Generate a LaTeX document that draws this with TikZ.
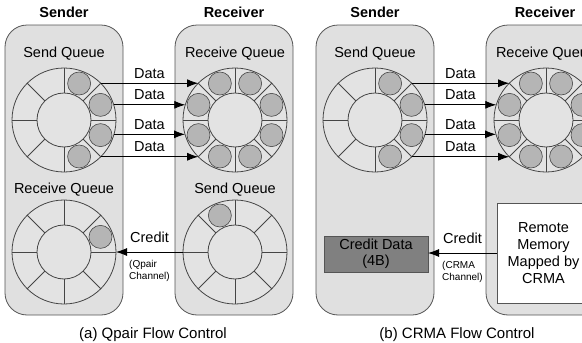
\documentclass[tikz,border=0pt]{standalone}
\usepackage{fontspec}
\setmainfont{Liberation Sans}
\usetikzlibrary{arrows.meta, calc, positioning}

\definecolor{boxgray}{HTML}{E0E0E0}
\definecolor{ringgray}{HTML}{E3E3E3}
\definecolor{slotgray}{HTML}{B5B5B5}
\definecolor{edge}{HTML}{555555}
\definecolor{ringline}{HTML}{454545}
\definecolor{darkcell}{HTML}{808080}

\begin{document}
\begin{tikzpicture}[x=1pt, y=1pt, font=\fontsize{14.5}{17}\selectfont]
\tikzset{every node/.style={inner sep=0mm, outer sep=0mm}}

\tikzstyle{host}=[draw=edge, fill=boxgray, rounded corners=22pt, minimum width=118pt, minimum height=290pt, line width=0.8pt]
\tikzstyle{title}=[font=\fontsize{14.5}{17}\selectfont\bfseries, text depth=0pt]
\tikzstyle{qname}=[text depth=0pt]
\tikzstyle{ring}=[circle, draw=ringline, fill=ringgray, minimum size=104pt, line width=0.8pt]
\tikzstyle{hub}=[circle, draw=ringline, fill=ringgray, minimum size=54pt, line width=0.8pt]
\tikzstyle{spoke}=[draw=ringline, line width=0.8pt]
\tikzstyle{slot}=[circle, draw=ringline, fill=slotgray, minimum size=23pt, line width=0.6pt]
\tikzstyle{post}=[->, line width=0.8pt, >={Latex[length=11pt,width=8pt]}]
\tikzstyle{tag}=[above=5pt, text depth=0pt]
\tikzstyle{chan}=[below=8pt, font=\fontsize{10}{12}\selectfont, align=left]
\tikzstyle{caption}=[font=\fontsize{15}{18}\selectfont, text depth=0pt]

\useasboundingbox (0,0) rectangle (582,-343);
\clip (0,0) rectangle (582,-343);

% hosts
\node[host] (a sender) at (64,-170) {};
\node[host] (a receiver) at (234,-170) {};
\node[host] (b sender) at (375,-170) {};
\node[host] (b receiver) at (545,-170) {};

\node[title, above=8pt of a sender] (a sender title) {Sender};
\node[title, above=8pt of a receiver] (a receiver title) {Receiver};
\node[title, above=8pt of b sender] (b sender title) {Sender};
\node[title, above=8pt of b receiver] (b receiver title) {Receiver};

% queues
\foreach \q/\x/\y in {a sq/64/-120, a rq/235/-120, a cq/64/-252, a cs/235/-252, b sq/375/-120, b rq/546/-120} {
    \node[ring] (\q) at (\x,\y) {};
    \node[hub] (\q hub) at (\x,\y) {};
    \foreach \a in {0,45,...,315}
        \draw[spoke] (\q hub.\a) -- (\q.\a);
}

\foreach \q/\angles in {a sq/{67.5,22.5,-22.5,-67.5}, a rq/{22.5,67.5,...,337.5}, a cq/{22.5}, a cs/{112.5}, b sq/{67.5,22.5,-22.5,-67.5}, b rq/{22.5,67.5,...,337.5}} {
    \foreach \a [count=\i] in \angles
        \node[slot] (\q slot \i) at ([shift={(\a:39.5)}]\q.center) {};
}

\node[qname, above=11pt of a sq] (a sq name) {Send Queue};
\node[qname, above=11pt of a rq] (a rq name) {Receive Queue};
\node[qname, above=7pt of a cq] (a cq name) {Receive Queue};
\node[qname, above=7pt of a cs] (a cs name) {Send Queue};
\node[qname, above=11pt of b sq] (b sq name) {Send Queue};
\node[qname, above=11pt of b rq] (b rq name) {Receive Queue};

% data path
\foreach \p in {a,b} {
    \draw[post] (\p\space sq.45) -- node[tag] (\p\space d1) {Data} (\p\space rq.135);
    \draw[post] (\p\space sq.17) -- node[tag] (\p\space d2) {Data} (\p\space rq.163);
    \draw[post] (\p\space sq.-16) -- node[tag] (\p\space d3) {Data} (\p\space rq.196);
    \draw[post] (\p\space sq.-45) -- node[tag] (\p\space d4) {Data} (\p\space rq.225);
}

% credit path
\draw[post] (a cs.180) -- node[tag, above=10pt] (a credit) {Credit} node[chan] (a chan) {(Qpair\\Channel)} (a cq.0);

\node[draw=edge, fill=darkcell, minimum width=104pt, minimum height=36pt, align=center, font=\fontsize{14.5}{16}\selectfont] (b cdata) at (376,-254) {Credit Data\\(4B)};
\node[draw=edge, fill=white, minimum width=93pt, minimum height=100pt, align=center, line width=0.8pt] (b remote) at (543.5,-253) {Remote\\Memory\\Mapped by\\CRMA};

\draw[post] (b remote.west) -- node[tag, above=10pt] (b credit) {Credit} node[chan] (b chan) {(CRMA\\Channel)} (b remote.west -| b cdata.east);

\node[caption] (a caption) at (153,-333) {(a) Qpair Flow Control};
\node[caption] (b caption) at (457,-333) {(b) CRMA Flow Control};

\end{tikzpicture}
\end{document}
